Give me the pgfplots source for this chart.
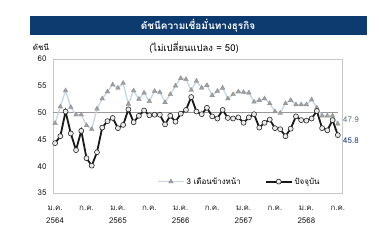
\documentclass[border=0pt]{standalone}
\usepackage{fontspec}
\setmainfont{Loma}[Script=Thai]
\usepackage{pgfplots}
\usepackage{pgfplotstable}
\pgfplotsset{compat=1.18}
\definecolor{navy}{HTML}{0D3B70}
\definecolor{paleblue}{HTML}{C5D6E8}
\definecolor{trigrey}{HTML}{A0A0A0}
\definecolor{lab1}{HTML}{6B7C96}
\definecolor{lab2}{HTML}{1F3C88}
\pgfplotstableread{
x y
0 48.0
1 51.1
2 54.1
3 51.0
4 49.6
5 49.6
6 47.6
7 46.9
8 50.7
9 52.6
10 53.9
11 55.2
12 54.6
13 55.5
14 51.6
15 54.1
16 52.5
17 53.7
18 52.1
19 54.0
20 53.8
21 51.9
22 53.4
23 55.0
24 56.4
25 56.2
26 54.2
27 55.9
28 54.6
29 55.1
30 53.2
31 54.0
32 54.6
33 52.6
34 53.4
35 53.9
36 53.8
37 53.7
38 52.0
39 52.3
40 52.6
41 51.7
42 50.2
43 49.9
44 51.7
45 52.3
46 51.5
47 51.5
48 51.5
49 52.4
50 50.9
51 49.4
52 49.4
53 49.4
54 47.9
}\ahead
\pgfplotstableread{
x y
0 44.3
1 45.6
2 50.2
3 46.1
4 43.0
5 46.6
6 41.5
7 40.1
8 42.6
9 47.2
10 48.4
11 49.0
12 47.1
13 47.7
14 50.6
15 48.2
16 49.4
17 50.4
18 49.5
19 49.6
20 49.6
21 47.8
22 49.4
23 48.3
24 49.8
25 50.5
26 52.9
27 50.2
28 49.7
29 50.9
30 49.3
31 48.9
32 50.5
33 49.0
34 48.9
35 49.1
36 48.1
37 49.1
38 49.7
39 47.2
40 48.1
41 48.7
42 47.1
43 46.9
44 45.6
45 47.0
46 49.3
47 48.6
48 48.5
49 48.9
50 50.3
51 47.1
52 46.7
53 48.6
54 45.8
}\current
\begin{document}
\begin{tikzpicture}
\fill[white] (0bp,0bp) rectangle (379bp,248bp);
\fill[navy] (30bp,213bp) rectangle (367bp,232bp);
\node[white,font=\fontsize{10}{12}\selectfont\bfseries] at (198bp,222.5bp) {ดัชนีความเชื่อมั่นทางธุรกิจ};
\node[font=\fontsize{9.5}{11}\selectfont] at (194bp,200bp) {(ไม่เปลี่ยนแปลง = 50)};
\node[font=\fontsize{8}{10}\selectfont] at (41bp,201bp) {ดัชนี};
\begin{axis}[
  at={(53bp,55bp)}, anchor=south west,
  scale only axis, width=289bp, height=134bp,
  xmin=-0.4, xmax=54.8, ymin=35, ymax=60,
  axis line style={draw=black!22},
  ytick={35,40,...,60},
  /pgf/number format/assume math mode=true,
  yticklabel style={font=\fontsize{8}{10}\selectfont, color=black!85, xshift=-3bp},
  ytick style={draw=none},
  xtick={0,6,...,54},
  xticklabels={{ม.ค.\\2564},{ก.ค.},{ม.ค.\\2565},{ก.ค.},{ม.ค.\\2566},{ก.ค.},{ม.ค.\\2567},{ก.ค.},{ม.ค.\\2568},{ก.ค.}},
  xticklabel style={font=\fontsize{8}{13}\selectfont, align=center, color=black!85, yshift=-10bp},
  xtick style={draw=none},
  extra x ticks={5.5,11.5,17.5,23.5,29.5,35.5,41.5,47.5,53.5},
  extra x tick labels={},
  extra x tick style={tick style={draw=black!30, line width=0.5bp}, major tick length=3bp, tick align=outside},
  tick pos=left,
  clip=false,
  legend columns=2,
  legend style={at={(0.645,0.085)}, anchor=center, draw=none, fill=none,
    font=\fontsize{8}{10}\selectfont, /tikz/every even column/.append style={column sep=22bp}},
  legend image code/.code={\draw[mark repeat=2,mark phase=2,#1] plot coordinates {(0bp,0bp) (13bp,0bp) (26bp,0bp)};},
]
\addplot[forget plot, draw=black!40, line width=0.7bp] coordinates {(-0.4,50) (54,50)};
\addplot[color=paleblue, line width=1.3bp, mark=triangle*, mark size=2.7bp,
  mark options={fill=trigrey, draw=black!45, line width=0.3bp}] table[x=x,y=y] {\ahead};
\addlegendentry{3 เดือนข้างหน้า}
\addplot[color=black!90, line width=1.8bp, mark=*, mark size=2.5bp,
  mark options={fill=black!8, draw=black!85, line width=0.6bp}] table[x=x,y=y] {\current};
\addlegendentry{ปัจจุบัน}
\node[anchor=west, inner sep=1bp, font=\fontsize{8}{10}\selectfont, text=lab1] at (axis cs:54.8,48.6) {47.9};
\node[anchor=west, inner sep=1bp, font=\fontsize{8}{10}\selectfont, text=lab2] at (axis cs:54.8,44.7) {45.8};
\end{axis}
\end{tikzpicture}
\end{document}
